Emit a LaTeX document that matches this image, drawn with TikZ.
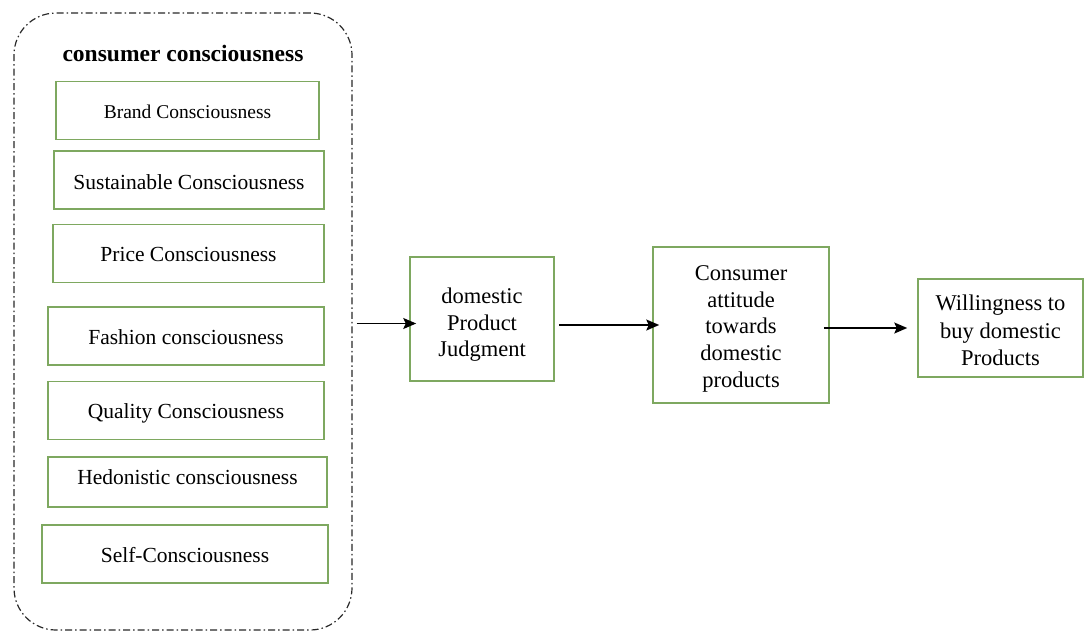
\documentclass[tikz,border=0pt]{standalone}
\usepackage{fontspec}
\setmainfont{Liberation Serif}
\usetikzlibrary{arrows.meta}
\definecolor{boxgreen}{RGB}{126,168,96}
\definecolor{dashgray}{RGB}{40,40,40}
\tikzset{
  gbox/.style={draw=boxgreen, line width=1.5pt, fill=white, inner sep=2pt, align=center, font=\fontsize{21.5}{26}\selectfont},
  fbox/.style={gbox, font=\fontsize{22.5}{26.5}\selectfont},
  tx/.style={text height=#1, text depth=0pt},
  conn/.style={line width=1.5pt, -{Stealth[length=13pt,width=11pt,inset=2.5pt]}},
}
\begin{document}
\begin{tikzpicture}[x=1pt,y=-1pt]
\useasboundingbox (0,0) rectangle (1085,632);
% container
\node[draw=dashgray, line width=1.2pt, dash pattern=on 7pt off 3pt on 1.5pt off 3pt, rounded corners=42pt, minimum width=338pt, minimum height=617pt, inner sep=0pt] (cc) at (183,321.5) {};
\node[font=\bfseries\fontsize{23.5}{28}\selectfont] (title) at (183,53) {consumer consciousness};
% inner boxes
\node[gbox, tx=15pt, minimum width=263pt, minimum height=58pt, font=\fontsize{19.5}{24}\selectfont] (brand) at (187.5,110.5) {Brand Consciousness};
\node[gbox, tx=18.4pt, minimum width=270pt, minimum height=58pt] (sust) at (189,180) {Sustainable Consciousness};
\node[gbox, tx=16pt, minimum width=271pt, minimum height=58pt] (price) at (188.5,253.5) {Price Consciousness};
\node[gbox, tx=16.4pt, minimum width=276pt, minimum height=58pt] (fash) at (186,336) {Fashion consciousness};
\node[gbox, tx=15.4pt, minimum width=276pt, minimum height=58pt] (qual) at (186,410.5) {Quality Consciousness};
\node[gbox, tx=5pt, minimum width=279pt, minimum height=50pt] (hedo) at (187.5,482) {Hedonistic consciousness};
\node[gbox, tx=17pt, minimum width=286pt, minimum height=58pt] (self) at (185,554) {Self-Consciousness};
% flow boxes
\node[fbox, minimum width=144pt, minimum height=124pt] (dpj) at (482,319) {\rule{0pt}{27.4pt}domestic\\Product\\Judgment};
\node[fbox, minimum width=176pt, minimum height=156pt, font=\fontsize{22.5}{26.75}\selectfont] (att) at (741,325) {\rule{0pt}{22.4pt}Consumer\\attitude\\towards\\domestic\\products};
\node[fbox, minimum width=165pt, minimum height=98pt, font=\fontsize{22.5}{27.5}\selectfont] (will) at (1000.5,328) {\rule{0pt}{20.4pt}Willingness to\\buy domestic\\Products};
% arrows
\coordinate (s1) at ([xshift=4pt,yshift=-2pt]cc.east);
\draw[conn] (s1) -- ([xshift=7pt]dpj.west |- s1);
\draw[conn] ([xshift=4pt]dpj.east |- att.west) -- ([xshift=7pt]att.west);
\draw[conn] ([xshift=-6pt]att.east |- will.west) -- ([xshift=-10pt]will.west);
\end{tikzpicture}
\end{document}
